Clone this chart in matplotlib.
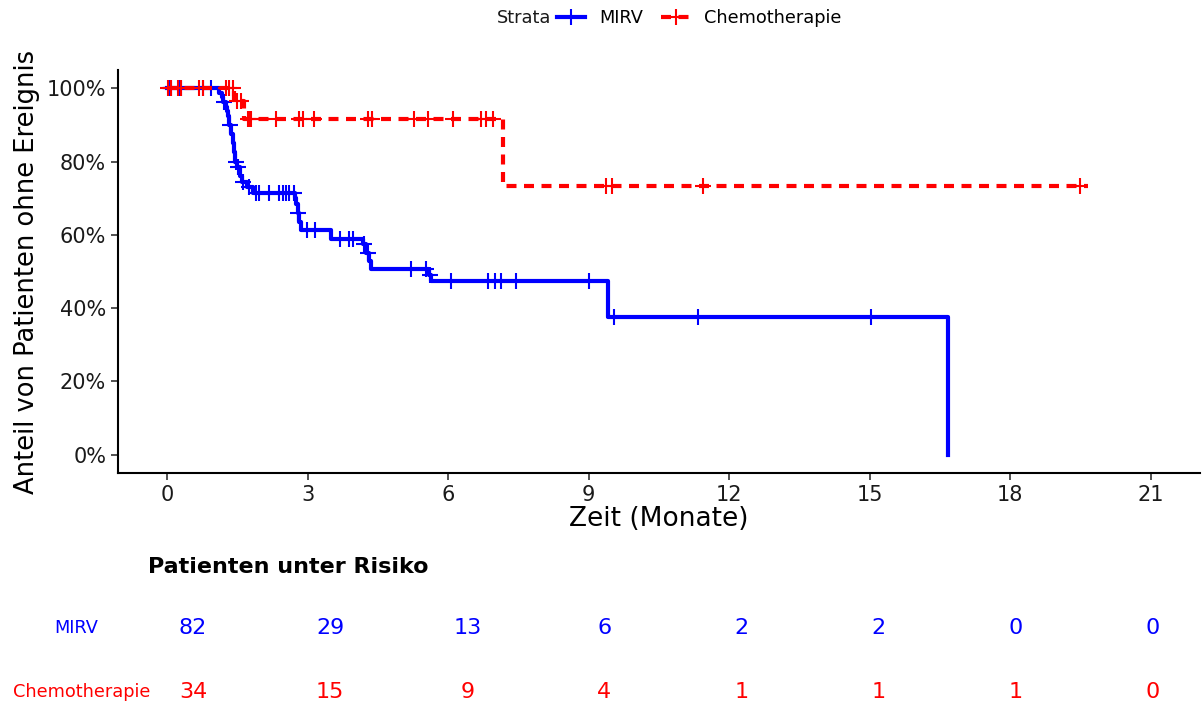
import numpy as np
import matplotlib
matplotlib.use("Agg")
import matplotlib.pyplot as plt
from matplotlib.lines import Line2D

# Kaplan-Meier Stufen (Zeit in Monaten, Anteil nach dem Ereignis)
mirv_zeit = [0, 1.10, 1.16, 1.20, 1.25, 1.28, 1.30, 1.33, 1.36, 1.40, 1.43, 1.45,
             1.50, 1.55, 1.60, 1.70, 1.84, 2.72, 2.76, 2.79, 2.82, 2.85, 3.50,
             4.18, 4.24, 4.30, 4.36, 5.58, 5.63, 9.42, 16.68]
mirv_anteil = [1.0, 0.988, 0.975, 0.963, 0.95, 0.938, 0.925, 0.90, 0.875, 0.85,
               0.825, 0.80, 0.785, 0.76, 0.745, 0.73, 0.715, 0.70, 0.685, 0.66,
               0.635, 0.613, 0.59, 0.575, 0.55, 0.53, 0.507, 0.49, 0.474, 0.377, 0.0]
mirv_zensiert = [0.05, 0.09, 0.26, 0.30, 0.77, 0.94, 1.22, 1.35, 1.47, 1.52, 1.62,
                 1.75, 1.90, 1.96, 2.17, 2.39, 2.47, 2.54, 2.60, 2.70, 2.80, 2.98,
                 3.16, 3.70, 3.88, 3.96, 4.20, 4.28, 5.20, 5.52, 5.62, 6.05, 6.84,
                 7.00, 7.12, 7.44, 9.00, 9.53, 11.34, 15.02]

chemo_zeit = [0, 1.43, 1.65, 7.18, 19.65]
chemo_anteil = [1.0, 0.965, 0.916, 0.734, 0.734]
chemo_zensiert = [0.02, 0.09, 0.23, 0.30, 0.68, 0.77, 1.25, 1.32, 1.40, 1.50,
                  1.58, 1.72, 1.80, 1.76, 2.32, 2.82, 2.90, 3.13, 4.28, 4.38,
                  5.27, 5.56, 6.10, 6.69, 6.80, 6.95, 9.36, 9.50, 11.44, 19.48]

# Patienten unter Risiko
risiko_zeiten = [0, 3, 6, 9, 12, 15, 18, 21]
risiko_mirv = [82, 29, 13, 6, 2, 2, 0, 0]
risiko_chemo = [34, 15, 9, 4, 1, 1, 1, 0]

blau = "#0000FF"
rot = "#FF0000"
strich = (0, (2.4, 1.8))


#------------------------------------------------------------------------------
# Wert der Stufenfunktion zur Zeit t
def stufe(zeit, anteil, t):
    i = np.searchsorted(zeit, t, side="right") - 1
    return np.array(anteil)[i]


def kurve(ax, zeit, anteil, zensiert, farbe, stil):
    ax.step(zeit, anteil, where="post", color=farbe, lw=3.0, ls=stil)
    y = stufe(zeit, anteil, zensiert)
    ax.plot(zensiert, y, ls="none", marker="+", ms=11, mew=1.5, color=farbe)


#------------------------------------------------------------------------------
fig = plt.figure(figsize=(12.03, 7.04), dpi=100)
ax = fig.add_axes([118 / 1203, 1 - 473 / 704, (1200 - 118) / 1203, (473 - 70) / 704])

kurve(ax, mirv_zeit, mirv_anteil, mirv_zensiert, blau, "-")
kurve(ax, chemo_zeit, chemo_anteil, chemo_zensiert, rot, strich)

ax.set_xlim(-1.05, 22.05)
ax.set_ylim(-0.05, 1.05)
ax.set_xticks(risiko_zeiten)
ax.set_yticks([0, 0.2, 0.4, 0.6, 0.8, 1.0])
ax.set_yticklabels(["0%", "20%", "40%", "60%", "80%", "100%"])
ax.tick_params(labelsize=15, length=5, width=1.2, color="#333333", labelcolor="#1a1a1a")
for s in ["top", "right"]:
    ax.spines[s].set_visible(False)
for s in ["left", "bottom"]:
    ax.spines[s].set_linewidth(1.5)
ax.set_xlabel("Zeit (Monate)", fontsize=19, labelpad=1)
ax.set_ylabel("Anteil von Patienten ohne Ereignis", fontsize=18.5, labelpad=5)

# Legende oben
fig.text(497 / 1203, 1 - 18 / 704, "Strata", fontsize=12.8, va="center", ha="left", color="#1a1a1a")
griffe = [Line2D([], [], color=blau, lw=3.0, marker="+", ms=11, mew=1.5),
          Line2D([], [], color=rot, lw=3.0, ls=strich, marker="+", ms=11, mew=1.5)]
fig.legend(griffe, ["MIRV", "Chemotherapie"], loc="center left", ncol=2, frameon=False,
           bbox_to_anchor=(557 / 1203, 1 - 18 / 704), fontsize=12.8, handlelength=1.6,
           handletextpad=0.8, columnspacing=1.0, borderaxespad=0, borderpad=0)

# Risikotabelle
tab = fig.add_axes([118 / 1203, 0, (1200 - 118) / 1203, 150 / 704])
tab.set_xlim(-1.64, 22.03)
tab.set_ylim(704, 554)
tab.axis("off")
for t, n in zip(risiko_zeiten, risiko_mirv):
    tab.text(t, 628, str(n), color=blau, fontsize=16, ha="center", va="center")
for t, n in zip(risiko_zeiten, risiko_chemo):
    tab.text(t, 692, str(n), color=rot, fontsize=16, ha="center", va="center")

fig.text(148 / 1203, 1 - 567 / 704, "Patienten unter Risiko", fontsize=16,
         fontweight="bold", ha="left", va="center")
fig.text(76 / 1203, 1 - 628 / 704, "MIRV", color=blau, fontsize=12.8, ha="center", va="center")
fig.text(82 / 1203, 1 - 692 / 704, "Chemotherapie", color=rot, fontsize=12.8, ha="center", va="center")

fig.savefig("out.png", dpi=100)
